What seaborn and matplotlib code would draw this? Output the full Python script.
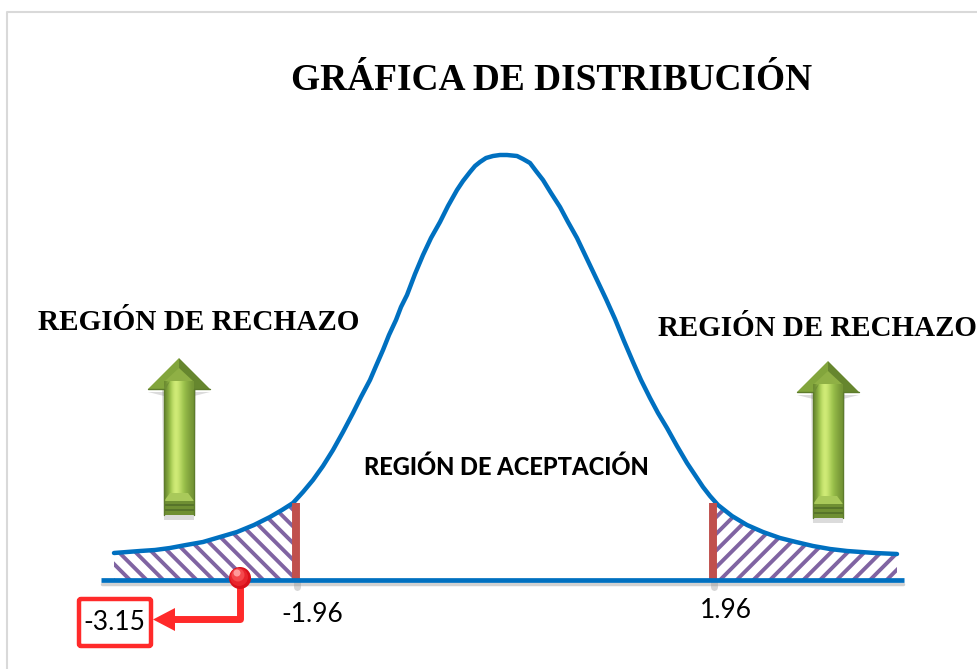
import numpy as np
import pandas as pd
import matplotlib
matplotlib.use("Agg")
import matplotlib.pyplot as plt
from matplotlib.colors import LinearSegmentedColormap
from matplotlib.patches import Polygon, FancyBboxPatch, Circle, Rectangle
import seaborn as sns

# curve, in picture pixels
curve_x = [114, 127, 140, 155, 170, 186, 203, 220, 237, 254, 270, 282, 293, 303, 313, 323, 333, 343, 353, 361,
           370, 376, 383, 389, 396, 401, 407, 415, 423, 431, 440, 448, 457, 463, 470, 475, 480, 486, 493, 500,
           507, 517, 523, 530, 536, 543, 551, 560, 568, 577, 587, 597, 606, 615, 624, 633, 641, 650, 658, 667,
           677, 687, 695, 703, 710, 718, 732, 747, 763, 780, 796, 813, 830, 847, 861, 875, 886, 897]
curve_y = [553, 552, 551, 550, 548, 545, 542, 537, 532, 525, 517, 510, 503, 492, 480, 466, 450, 432, 413, 397,
           380, 366, 350, 335, 320, 307, 295, 274, 255, 238, 222, 206, 190, 181, 172, 166, 162, 158, 156, 155,
           155, 156, 159, 163, 171, 180, 193, 207, 222, 238, 259, 280, 299, 319, 341, 362, 380, 398, 413, 428,
           446, 463, 475, 487, 496, 505, 516, 525, 532, 538, 542, 546, 549, 551, 552, 553, 553.5, 554]
left_crit = 296
right_crit = 713
axis_y = 580
curve_color = "#0070c0"
crit_color = "#c0504d"
hatch_color = "#8064a2"
red = "#ff2a2a"

sns.set_style("white")
plt.rcParams["hatch.linewidth"] = 2.8
plt.rcParams["text.color"] = "black"
fig = plt.figure(figsize=(9.78, 6.69), dpi=100)
ax = fig.add_axes([0, 0, 1, 1])

# frame of the pasted picture
ax.plot([7, 7, 978], [669, 12, 12], color="#d9d9d9", lw=1.5)

df = pd.DataFrame({"x": curve_x, "y": curve_y})
xx = np.array(curve_x, float)
yy = np.array(curve_y, float)

# rejection regions
for lo, hi, h in [(114, left_crit, "\\\\"), (right_crit, 897, "//")]:
    m = (xx >= lo) & (xx <= hi)
    px = np.r_[lo, xx[m], hi]
    py = np.r_[np.interp(lo, xx, yy), yy[m], np.interp(hi, xx, yy)]
    ax.fill_between(px, py, axis_y, facecolor="white", edgecolor=hatch_color, hatch=h, lw=0, zorder=2)

sns.lineplot(data=df, x="x", y="y", color=curve_color, lw=3.2, ax=ax, zorder=3, sort=False)

# axis line with soft shadow, critical bars
ax.plot([102, 903], [584, 584], color="#999999", lw=2.5, alpha=.45, zorder=2)
for c in (left_crit, right_crit):
    ax.plot([c + 1, c + 1], [580, 587], color="#999999", lw=5, alpha=.4, zorder=2)
    ax.plot([c, c], [503, axis_y], color=crit_color, lw=5.7, solid_capstyle="butt", zorder=3)
ax.plot([101, 904], [axis_y, axis_y], color=curve_color, lw=3.4, solid_capstyle="butt", zorder=4)


def green_arrow(cx, top):
    w, hw = 15, 31
    neck, bot = top + 31, top + 157
    # shadow
    ax.add_patch(Polygon([(cx - w, bot + 5), (cx + w, bot + 5), (cx + w + 2, neck), (cx - w - 2, neck)],
                         fc="#888888", alpha=.3, ec="none", zorder=2))
    ax.add_patch(Polygon([(cx - hw, neck + 3), (cx + hw, neck + 3), (cx + w, neck + 7), (cx - w, neck + 7)],
                         fc="#888888", alpha=.3, ec="none", zorder=2))
    # head facets
    ax.add_patch(Polygon([(cx, top), (cx - hw, neck), (cx, neck)], fc="#82a53c", ec="none", zorder=3))
    ax.add_patch(Polygon([(cx, top), (cx + hw, neck), (cx, neck)], fc="#66862e", ec="none", zorder=3))
    ax.plot([cx - hw, cx + hw], [neck, neck], color="#5e7c2c", lw=1, zorder=3)
    # body shaded with a gradient
    grad = np.array([[0, .35, .75, 1, .85, .6, .4, .25, .1]])
    cmap = LinearSegmentedColormap.from_list("g", ["#6b8a30", "#9cc24c", "#d6f07c"])
    ax.imshow(grad, extent=(cx - w, cx + w, bot - 14, neck - 8), cmap=cmap, aspect="auto",
              interpolation="bicubic", zorder=3)
    ax.add_patch(Polygon([(cx - w, neck - 2), (cx - w + 6, neck - 8), (cx - w, neck + 3)], fc="#6f8f35", ec="none", zorder=4))
    ax.add_patch(Polygon([(cx - w + 1, neck - 8), (cx, top + 10), (cx + w - 1, neck - 8)], fc="#8fb045", ec="none", zorder=4))
    ax.add_patch(Polygon([(cx - w, bot - 14), (cx + w, bot - 14), (cx + w - 6, bot - 22), (cx - w + 6, bot - 22)],
                         fc="#a9c95a", ec="none", zorder=4))
    # stacked base
    ax.add_patch(Rectangle((cx - w, bot - 14), 2 * w, 14, fc="#6f8f33", ec="none", zorder=4))
    for off in (4, 9):
        ax.plot([cx - w, cx + w], [bot - 14 + off, bot - 14 + off], color="#55722a", lw=1.3, solid_capstyle="butt", zorder=5)
    for s in (-1, 1):
        ax.plot([cx + s * w, cx + s * w], [neck, bot], color="#5e7c2c", lw=1, zorder=5)


green_arrow(179, 358)
green_arrow(828, 361)

# observed value marker
ax.plot([240, 240, 172], [580, 619, 619], color=red, lw=5, solid_joinstyle="round", solid_capstyle="butt", zorder=5)
ax.add_patch(Polygon([(153, 619.5), (175, 608), (175, 631)], fc=red, ec="none", zorder=5))
for r, dx, dy, col in [(11, 0, 0, "#d8101a"), (9, -1, -1, "#e8242c"), (6.5, -2, -3, "#f4484c"), (3.5, -3, -5, "#ff9a9a")]:
    ax.add_patch(Circle((240 + dx, 578 + dy), r, fc=col, ec="none", zorder=6))
ax.add_patch(FancyBboxPatch((79, 599), 72, 47, boxstyle="round,pad=0,rounding_size=2", fc="white", ec=red, lw=3.2, zorder=5))

ax.set(xlim=(0, 978), ylim=(669, 0))
ax.axis("off")

serif = "Liberation Serif"
ax.text(552, 80, "GRÁFICA DE DISTRIBUCIÓN", family=serif, weight="bold", fontsize=26.9, ha="center", va="center")
ax.text(199, 323, "REGIÓN DE RECHAZO", family=serif, weight="bold", fontsize=21.1, ha="center", va="center")
ax.text(817.5, 329, "REGIÓN DE RECHAZO", family=serif, weight="bold", fontsize=20.9, ha="center", va="center")
ax.text(506, 467, "REGIÓN DE ACEPTACIÓN", family="Lato", weight="black", fontsize=17, ha="center", va="center")
ax.text(312, 614, "-1.96", family="Lato", fontsize=19, ha="center", va="center")
ax.text(726, 610, "1.96", family="Lato", fontsize=19, ha="center", va="center")
ax.text(114, 623, "-3.15", family="Lato", fontsize=19, ha="center", va="center", zorder=7)

fig.savefig("out.png", dpi=100)
